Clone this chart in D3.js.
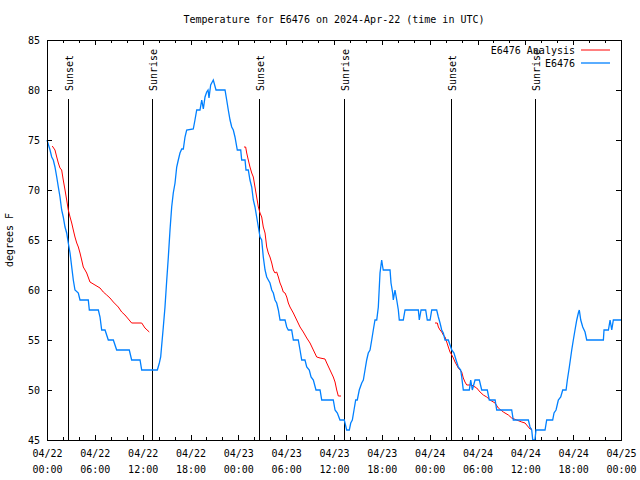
<!DOCTYPE html>
<html><head><meta charset="utf-8">
<script src="https://cdn.jsdelivr.net/npm/d3@7"></script>
<style>body{margin:0;background:#fff}svg{display:block}text{font-family:"DejaVu Sans Mono",monospace;font-size:10px;fill:#000}</style>
</head><body><svg id="c" width="640" height="480"></svg>
<script>
const title = "Temperature for E6476 on 2024-Apr-22 (time in UTC)";
const yLabel = "degrees F";
const startDate = Date.UTC(2024, 3, 22, 0, 0);
const endDate = Date.UTC(2024, 3, 25, 0, 0);
const yTicks = [45, 50, 55, 60, 65, 70, 75, 80, 85];
const seriesNames = ["E6476 Analysis", "E6476"];
// Hours since 2024-04-22 00:00 UTC
const sunsetHours = [2.65, 26.63, 50.7];
const sunriseHours = [13.2, 37.25, 61.22];

const obsHours = [0.0,0.38,0.59,0.79,1.0,1.22,1.42,1.63,1.84,2.04,2.26,2.47,2.67,2.89,3.1,3.3,3.51,3.93,4.14,5.18,5.31,6.44,6.65,6.86,7.28,7.69,8.32,8.74,10.32,10.62,11.67,11.88,13.84,14.09,14.26,14.39,14.59,14.8,15.02,15.22,15.43,15.64,15.84,16.06,16.27,16.47,16.68,16.9,17.1,17.31,17.52,18.35,18.56,18.78,19.19,19.41,19.61,19.82,20.03,20.2,20.32,20.53,20.86,21.2,22.33,22.54,22.74,22.96,23.17,23.37,23.58,23.87,24.3,24.42,24.84,24.96,25.25,25.46,25.68,25.88,26.09,26.3,26.51,26.72,26.93,27.13,27.35,27.56,27.76,27.97,28.19,28.39,28.6,28.81,29.02,29.23,29.86,30.07,30.27,30.69,30.9,31.52,31.74,31.95,32.36,32.58,32.9,33.12,33.41,33.74,34.25,34.46,35.91,36.13,36.42,36.75,37.29,37.59,37.92,38.1,38.3,38.51,38.72,38.92,39.17,39.48,39.68,39.89,40.1,40.3,40.52,40.73,40.93,41.14,41.36,41.56,41.77,41.98,42.11,42.18,43.03,43.15,43.36,43.44,43.65,43.87,44.07,44.19,44.69,44.91,46.58,46.7,46.92,47.5,47.7,48.05,48.26,48.88,49.09,49.3,49.51,49.71,49.93,50.34,50.64,50.77,51.05,51.31,51.59,51.89,52.02,52.22,52.97,53.15,53.35,53.69,54.23,54.53,55.23,55.48,56.21,56.41,58.29,58.49,60.38,60.59,60.8,60.93,61.2,61.34,62.47,62.68,63.43,63.6,63.85,64.14,64.44,64.69,65.11,65.27,65.52,65.82,66.02,66.23,66.45,66.65,66.77,66.95,67.2,67.49,67.7,69.79,69.87,70.42,70.63,70.84,71.04,72.0];
const obsTemps = [75,74,73.3,73,72.3,71.3,70.3,69.3,68,67.3,66.3,65.7,64.7,63.7,62.3,61,60,59.7,59,59,58,58,57.3,56,56,55,55,54,54,53,53,52,52,52.7,53.3,54.5,56.3,58.3,61,63.3,66,68.3,69.7,70.7,72.3,73,73.7,74.1,74.1,75.3,76,76.1,77,78,78,79,78.1,79.3,79.8,80,79.2,80.5,81,80,80,79,78,77,76.3,76,75.3,74,74,73,73,72,72,71,70.3,69,68.3,67.3,66.3,65.3,65,63.3,62,61.3,61,60.7,60,59.7,59,58.7,58,57,57,56.3,56,56,55,55,54,53,53,52.3,52,51.3,51,50,50,49,49,48,47.7,47,47,46,46,46.7,47,48,49,49,50,50.7,51,52,53,53.7,54,55,56,57,57,58.3,61.7,63,62.3,62,62,60.7,59.7,59,60,59,58,57,57,58,58,57,58,58,57,57,58,58,57.3,56.7,56,55.7,55,55,54.3,54,53.7,53,52.3,52,51.3,50,50,51,50,51,51,50,50,49,49,48,48,47,47,46.3,46,45,45,46,46,47,47,47.7,48,49,49.3,50,50,51,52.3,54,55,56,57,57.7,58,57,56.3,55.8,55,55,56,56,57,56,57,57];

// Analysis: null marks a gap between segments
const anaHours = [0.66,1.0,1.22,1.42,1.63,1.84,2.04,2.26,2.47,2.67,2.89,3.1,3.3,3.51,3.73,3.93,4.14,4.35,4.55,4.77,4.98,5.39,6.02,6.65,7.06,7.49,7.9,8.32,8.94,9.37,9.78,10.2,10.62,11.88,12.29,12.83,null,
  24.71,24.92,25.05,25.25,25.46,25.68,25.88,26.09,26.3,26.51,26.72,26.93,27.13,27.35,27.56,27.76,27.97,28.19,28.39,28.6,28.81,29.02,29.23,29.44,29.64,29.86,30.07,30.27,30.48,30.69,30.9,31.32,31.74,32.15,32.58,32.99,33.41,33.83,34.25,34.87,35.09,35.5,35.91,36.13,36.34,36.54,36.88,null,
  48.67,48.96,49.09,49.3,49.51,49.71,49.93,50.14,50.34,50.55,50.77,50.97,51.18,51.39,51.59,51.81,52.02,52.22,52.43,52.65,53.27,53.9,54.32,54.73,55.16,55.57,56.2,56.61,57.24,57.87,58.29,58.92,59.55,59.96,60.38,60.59,60.8];
const anaTemps = [74.4,74,73.3,72.7,72.2,72,71,70,69,68,67.3,66.7,66,65.3,64.7,64.3,63.7,63,62.3,62,61.7,60.8,60.5,60.2,59.8,59.5,59.2,58.8,58.3,57.8,57.5,57.1,56.7,56.7,56.2,55.8,null,
  74.3,74.3,73.7,73,72.3,71.7,71.3,70.3,69.3,68.3,67.7,67.3,66.3,65.7,64.3,63.7,63.3,62.7,62,61.7,61.8,61.3,60.7,60.3,59.8,59.7,59.3,58.7,58.3,58,57.7,57,56.3,55.8,55.2,54.7,54,53.3,53.2,53.1,52.7,52,51.3,50.8,50,49.4,49.4,null,
  56.7,56.7,56.3,56,55.8,55.5,55.3,54.8,54.3,53.8,53.5,53.2,52.8,52.5,52.2,52,51.8,51.2,50.8,50.5,50.5,50.2,49.8,49.5,49.3,49,48.7,48.2,47.8,47.5,47.2,47,46.8,46.7,46.3,46.1,46.1];

const colors = {ana: "#ff0000", obs: "#0080ff"};
const M = {left: 47, right: 621, top: 40, bottom: 440};
const svg = d3.select("#c");
const hr = h => new Date(startDate + h * 3600e3);

const x = d3.scaleUtc().domain([new Date(startDate), new Date(endDate)]).range([M.left, M.right]);
const y = d3.scaleLinear().domain([45, 85]).range([M.bottom, M.top]);

// Title & y label
svg.append("text").attr("x", 334).attr("y", 23).attr("text-anchor", "middle").text(title);
svg.append("text").attr("transform", "translate(13,240) rotate(-90)").attr("text-anchor", "middle").text(yLabel);

// Axes
const fmtD = d3.utcFormat("%m/%d"), fmtT = d3.utcFormat("%H:%M");
const xb = svg.append("g").attr("transform", `translate(0,${M.bottom})`)
  .call(d3.axisBottom(x).ticks(d3.utcHour.every(6)).tickSize(0).tickFormat(""));
xb.select(".domain").remove();
xb.selectAll(".tick").each(function(d){
  const g = d3.select(this);
  g.append("text").attr("y", 17).attr("text-anchor", "middle").text(fmtD(d));
  g.append("text").attr("y", 33).attr("text-anchor", "middle").text(fmtT(d));
});
const major = x.ticks(d3.utcHour.every(6));
const minor = x.ticks(d3.utcHour.every(2)).filter(d => d.getUTCHours() % 6 !== 0);
const tk = svg.append("g").attr("stroke", "#000").attr("stroke-width", 1).attr("shape-rendering", "crispEdges");
major.forEach(d => { const px = Math.round(x(d)) + 0.5;
  tk.append("line").attr("x1", px).attr("x2", px).attr("y1", M.bottom).attr("y2", M.bottom - 5);
  tk.append("line").attr("x1", px).attr("x2", px).attr("y1", M.top).attr("y2", M.top + 5); });
minor.forEach(d => { const px = Math.round(x(d)) + 0.5;
  tk.append("line").attr("x1", px).attr("x2", px).attr("y1", M.bottom).attr("y2", M.bottom - 3);
  tk.append("line").attr("x1", px).attr("x2", px).attr("y1", M.top).attr("y2", M.top + 3); });

const yl = svg.append("g").attr("transform", `translate(${M.left},0)`)
  .call(d3.axisLeft(y).tickValues(yTicks).tickSize(0).tickPadding(7).tickFormat(d3.format("d")));
yl.select(".domain").remove();
yl.selectAll("text").attr("font-family", "DejaVu Sans Mono").attr("font-size", 10).attr("fill", "#000");
yTicks.forEach(v => { const py = Math.round(y(v)) + 0.5;
  tk.append("line").attr("x1", M.left).attr("x2", M.left + 5).attr("y1", py).attr("y2", py);
  tk.append("line").attr("x1", M.right).attr("x2", M.right - 5).attr("y1", py).attr("y2", py); });

// Sun lines
const sunEvents = sunsetHours.map(h => ({h, label: "Sunset"})).concat(sunriseHours.map(h => ({h, label: "Sunrise"})));
sunEvents.forEach(e => {
  const px = Math.round(x(hr(e.h))) + 0.5;
  svg.append("line").attr("x1", px).attr("x2", px).attr("y1", 99).attr("y2", M.bottom)
    .attr("stroke", "#000").attr("stroke-width", 1).attr("shape-rendering", "crispEdges");
  svg.append("text").attr("transform", `translate(${px + 4},91) rotate(-90)`).attr("text-anchor", "start").text(e.label);
});

// Lines
const line = d3.line().defined(d => d.v != null).x(d => x(hr(d.h))).y(d => y(d.v));
const anaData = anaHours.map((h, i) => ({h, v: h == null ? null : anaTemps[i]}));
const obsData = obsHours.map((h, i) => ({h, v: obsTemps[i]}));
svg.append("path").datum(anaData).attr("d", line).attr("fill", "none").attr("stroke", colors.ana).attr("stroke-width", 1);
svg.append("path").datum(obsData).attr("d", line).attr("fill", "none").attr("stroke", colors.obs).attr("stroke-width", 1.3);

// Frame
svg.append("rect").attr("x", M.left + 0.5).attr("y", M.top + 0.5).attr("width", M.right - M.left).attr("height", M.bottom - M.top)
  .attr("fill", "none").attr("stroke", "#000").attr("shape-rendering", "crispEdges");

// Legend
const leg = [{name: seriesNames[0], c: colors.ana, y: 50}, {name: seriesNames[1], c: colors.obs, y: 63}];
leg.forEach(l => {
  svg.append("text").attr("x", 575).attr("y", l.y + 4).attr("text-anchor", "end").text(l.name);
  svg.append("line").attr("x1", 581).attr("x2", 610).attr("y1", l.y).attr("y2", l.y).attr("stroke", l.c).attr("stroke-width", l.c === colors.obs ? 1.3 : 1);
});
</script></body></html>
